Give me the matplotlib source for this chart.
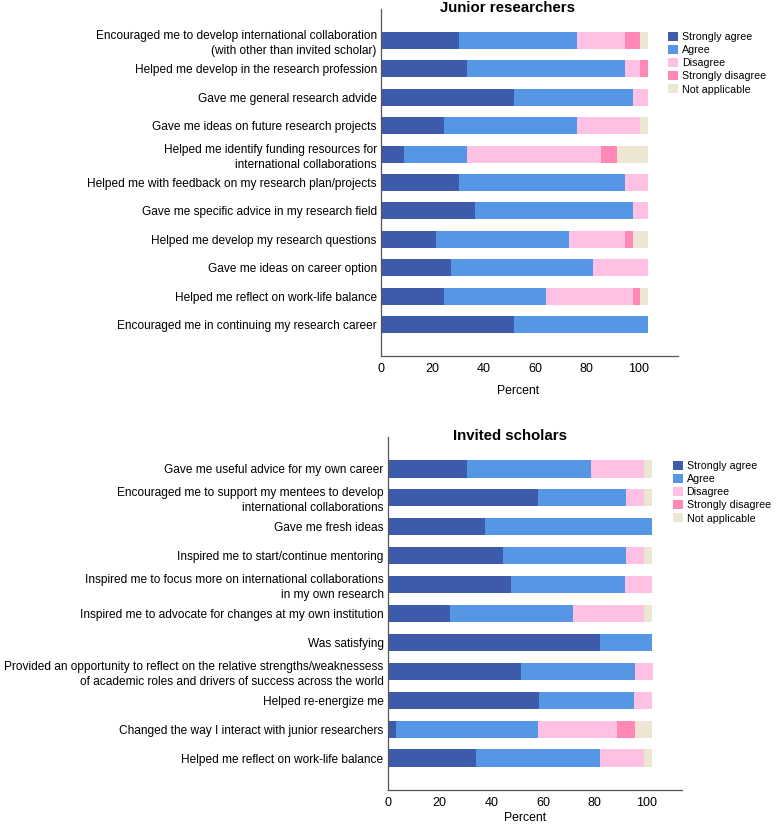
import numpy as np
import matplotlib
matplotlib.use("Agg")
import matplotlib.pyplot as plt

plt.rcParams['font.family'] = ['Liberation Sans', 'DejaVu Sans']
plt.rcParams['font.size'] = 8.6

# response categories and colours
categories = ["Strongly agree", "Agree", "Disagree", "Strongly disagree", "Not applicable"]
colors = ["#3e5aaa", "#5597e5", "#ffc1e3", "#ff88b6", "#ede6d2"]

# Junior researchers (percent per category)
junior_items = [
    "Encouraged me to develop international collaboration\n(with other than invited scholar)",
    "Helped me develop in the research profession",
    "Gave me general research advide",
    "Gave me ideas on future research projects",
    "Helped me identify funding resources for\ninternational collaborations",
    "Helped me with feedback on my research plan/projects",
    "Gave me specific advice in my research field",
    "Helped me develop my research questions",
    "Gave me ideas on career option",
    "Helped me reflect on work-life balance",
    "Encouraged me in continuing my research career",
]
junior_sa = [30.4, 33.4, 51.8, 24.4, 8.9, 30.4, 36.5, 21.2, 27.3, 24.4, 51.8]
junior_a = [46.0, 61.4, 46.1, 52.0, 24.5, 64.4, 61.4, 52.1, 55.1, 39.7, 52.1]
junior_d = [18.4, 6.0, 6.0, 24.4, 52.1, 9.1, 6.0, 21.5, 21.5, 33.8, 0.0]
junior_sd = [6.0, 3.1, 0.0, 0.0, 6.2, 0.0, 0.0, 3.1, 0.0, 2.9, 0.0]
junior_na = [3.1, 0.0, 0.0, 3.1, 12.2, 0.0, 0.0, 6.0, 0.0, 3.1, 0.0]

# Invited scholars
scholar_items = [
    "Gave me useful advice for my own career",
    "Encouraged me to support my mentees to develop\ninternational collaborations",
    "Gave me fresh ideas",
    "Inspired me to start/continue mentoring",
    "Inspired me to focus more on international collaborations\nin my own research",
    "Inspired me to advocate for changes at my own institution",
    "Was satisfying",
    "Provided an opportunity to reflect on the relative strengths/weaknessess\nof academic roles and drivers of success across the world",
    "Helped re-energize me",
    "Changed the way I interact with junior researchers",
    "Helped me reflect on work-life balance",
]
scholar_sa = [30.6, 57.9, 37.6, 44.4, 47.6, 23.9, 81.9, 51.5, 58.4, 3.3, 34.1]
scholar_a = [47.8, 34.1, 64.6, 47.6, 44.2, 47.7, 20.3, 44.1, 36.5, 54.6, 47.8]
scholar_d = [20.4, 6.8, 0.0, 6.8, 10.4, 27.2, 0.0, 6.8, 7.3, 30.6, 16.9]
scholar_sd = [0.0, 0.0, 0.0, 0.0, 0.0, 0.0, 0.0, 0.0, 0.0, 7.0, 0.0]
scholar_na = [3.4, 3.4, 0.0, 3.4, 0.0, 3.4, 0.0, 0.0, 0.0, 6.7, 3.4]

W, H = 778, 827
fig = plt.figure(figsize=(W / 100, H / 100), dpi=100)


def draw_panel(rect, items, series, title, title_x, title_y, xmax, legend_xy, label_xy):
    ax = fig.add_axes(rect)
    y = np.arange(len(items))
    left = np.zeros(len(items))
    for vals, col, lab in zip(series, colors, categories):
        vals = np.array(vals)
        ax.barh(y, vals, left=left, height=0.6, color=col, label=lab, linewidth=0)
        left += vals
    ax.set_yticks(y)
    ax.set_yticklabels(items, linespacing=1.35)
    ax.set_ylim(len(items) - 1 + 1.1, -1.1)
    ax.set_xlim(0, xmax)
    ax.set_xticks([0, 20, 40, 60, 80, 100])
    ax.tick_params(axis='both', length=0)
    ax.tick_params(axis='x', pad=5, labelsize=9)
    ax.tick_params(axis='y', pad=3, labelsize=8.6)
    for s in ['top', 'right']:
        ax.spines[s].set_visible(False)
    for s in ['left', 'bottom']:
        ax.spines[s].set_color('#555555')
        ax.spines[s].set_linewidth(0.9)
    ax.set_xlabel("Percent", fontsize=8.8)
    ax.xaxis.set_label_coords(*label_xy)
    fig.text(title_x / W, 1 - title_y / H, title, fontsize=10.8, fontweight='bold',
             ha='center', va='center')
    ax.legend(loc='upper left', bbox_to_anchor=(legend_xy[0] / W, 1 - legend_xy[1] / H),
              bbox_transform=fig.transFigure,
              frameon=False, fontsize=7.7, handlelength=0.95, handleheight=0.95,
              handletextpad=0.35, labelspacing=0.26, borderpad=0, borderaxespad=0)
    return ax


draw_panel([381 / W, 1 - 356 / H, 297 / W, 347 / H], junior_items,
           [junior_sa, junior_a, junior_d, junior_sd, junior_na],
           "Junior researchers", 507, 8, 115.5, (668, 32), (0.461, -0.084))

draw_panel([387.7 / W, 1 - 790 / H, 294 / W, 353 / H], scholar_items,
           [scholar_sa, scholar_a, scholar_d, scholar_sd, scholar_na],
           "Invited scholars", 510, 436, 113.5, (672.7, 461), (0.467, -0.062))

fig.savefig("out.png", dpi=100)
